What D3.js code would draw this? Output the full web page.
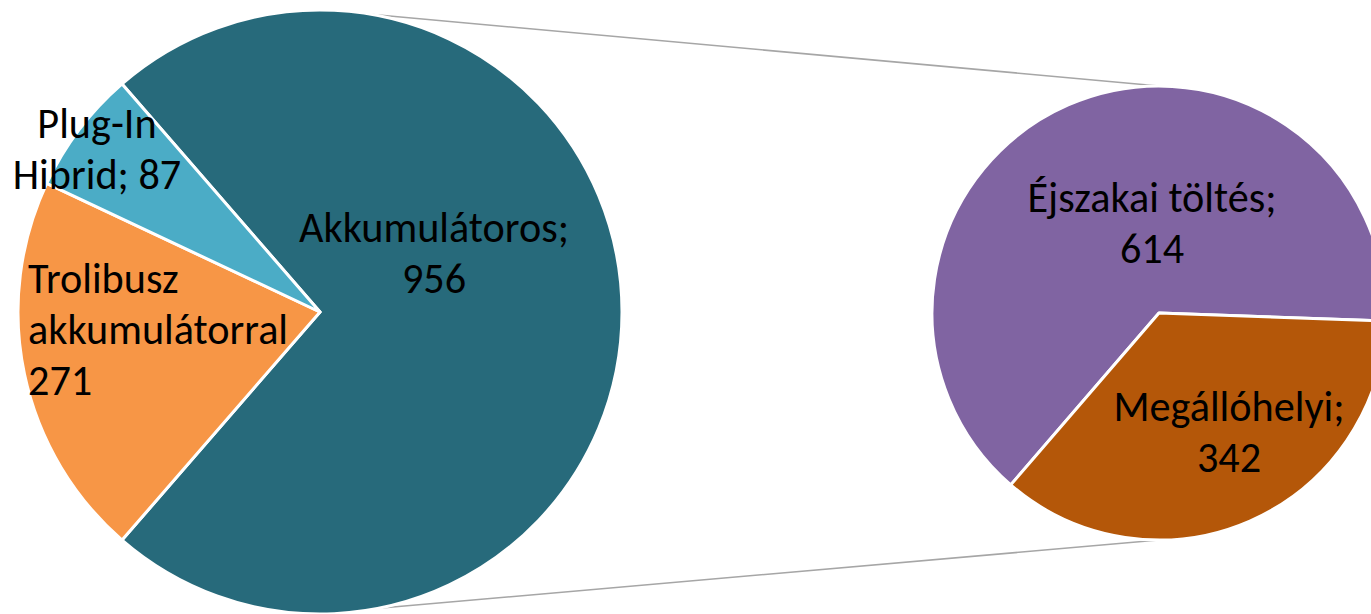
<!DOCTYPE html>
<html>
<head>
<meta charset="utf-8">
<script src="https://cdn.jsdelivr.net/npm/d3@7"></script>
<style>
  html, body { margin: 0; padding: 0; background: #ffffff; overflow: hidden; }
  svg { display: block; }
  text { font-family: Calibri, Carlito, Lato, sans-serif; fill: #000; }
</style>
</head>
<body>
<svg id="chart" width="1371" height="614"></svg>
<script>
// ---- data ----
const mainCategories = ["Akkumulátoros", "Trolibusz akkumulátorral", "Plug-In Hibrid"];
const mainValues = [956, 271, 87];
const mainColors = ["#276A7B", "#F79646", "#4BACC6"];

const subCategories = ["Éjszakai töltés", "Megállóhelyi"];
const subValues = [614, 342];
const subColors = ["#8064A2", "#B45709"];

// label texts (line-broken as in the picture)
const mainLabelLines = [["Akkumulátoros;", "956"], ["Trolibusz", "akkumulátorral", "271"], ["Plug-In", "Hibrid; 87"]];
const subLabelLines = [["Éjszakai töltés;", "614"], ["Megállóhelyi;", "342"]];

// ---- layout ----
const W = 1371, H = 614;
const svg = d3.select("#chart");
const deg = Math.PI / 180;

const L = { cx: 320, cy: 312, r: 302 };
const R = { cx: 1159, cy: 313, r: 227 };

const mainTotal = d3.sum(mainValues);
const mainStart = Math.PI / 2 - (mainValues[0] / mainTotal) * Math.PI;
const mainPie = d3.pie().sort(null).startAngle(mainStart).endAngle(mainStart + 2 * Math.PI);
const mainArcs = mainPie(mainValues);

const subTotal = d3.sum(subValues);
// secondary pie: boundary between slices sits just below 3 o'clock
const subEnd0 = 92 * deg;
const subStart = subEnd0 - (subValues[0] / subTotal) * 2 * Math.PI;
const subPie = d3.pie().sort(null).startAngle(subStart).endAngle(subStart + 2 * Math.PI);
const subArcs = subPie(subValues);

const arcL = d3.arc().innerRadius(0).outerRadius(L.r);
const arcR = d3.arc().innerRadius(0).outerRadius(R.r);

// connector lines
function pt(c, a) { return [c.cx + c.r * Math.sin(a), c.cy - c.r * Math.cos(a)]; }
const connectors = [
  [pt(L, 9.6 * deg), pt(R, 0)],
  [pt(L, 168.8 * deg), pt(R, Math.PI)]
];
svg.append("g").selectAll("line").data(connectors).join("line")
  .attr("x1", d => d[0][0]).attr("y1", d => d[0][1])
  .attr("x2", d => d[1][0]).attr("y2", d => d[1][1])
  .attr("stroke", "#A6A6A6").attr("stroke-width", 1.6);

svg.append("g").attr("transform", `translate(${L.cx},${L.cy})`)
  .selectAll("path").data(mainArcs).join("path")
  .attr("d", arcL)
  .attr("fill", (d, i) => mainColors[i])
  .attr("stroke", "#fff").attr("stroke-width", 3).attr("stroke-linejoin", "round");

svg.append("g").attr("transform", `translate(${R.cx},${R.cy})`)
  .selectAll("path").data(subArcs).join("path")
  .attr("d", arcR)
  .attr("fill", (d, i) => subColors[i])
  .attr("stroke", "#fff").attr("stroke-width", 3).attr("stroke-linejoin", "round");

// ---- labels ----
// fit font size so "Akkumulátoros;" is ~270px wide (Calibri-like metrics)
const probe = svg.append("text").attr("font-size", 40).text("Akkumulátoros;");
const pw = probe.node().getComputedTextLength();
probe.remove();
const fs = 40 * 270 / pw;
const lh = 51;

// label anchor: [x, first baseline y, anchor]
const mainLabelPos = [[434, 242, "middle"], [28, 293, "start"], [97, 138, "middle"]];
const subLabelPos = [[1152, 212, "middle"], [1229, 421, "middle"]];

function drawLabels(lines, pos) {
  const g = svg.append("g");
  lines.forEach((ls, i) => {
    const t = g.append("text")
      .attr("x", pos[i][0]).attr("y", pos[i][1])
      .attr("text-anchor", pos[i][2])
      .attr("font-size", fs);
    ls.forEach((s, j) => {
      t.append("tspan").attr("x", pos[i][0]).attr("y", pos[i][1] + j * lh).text(s);
    });
  });
}
drawLabels(mainLabelLines, mainLabelPos);
drawLabels(subLabelLines, subLabelPos);
</script>
</body>
</html>
